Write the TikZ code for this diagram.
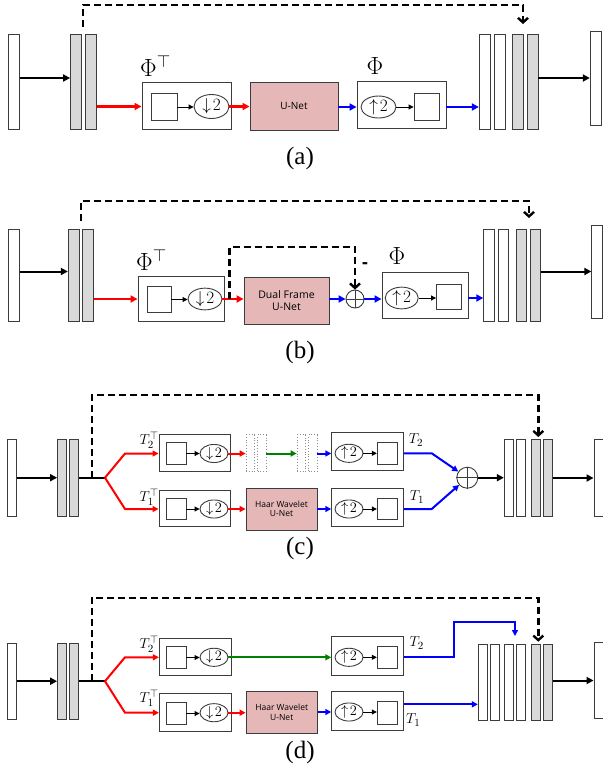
\documentclass[tikz,border=0pt]{standalone}
\usepackage[no-math]{fontspec}
\setmainfont{Liberation Serif}
\newfontfamily\sansf{Open Sans}
\usetikzlibrary{shapes.geometric,arrows.meta}
\definecolor{pinkc}{RGB}{229,184,183}
\definecolor{grayc}{RGB}{217,217,217}
\definecolor{greenc}{RGB}{0,128,0}
\definecolor{edgec}{RGB}{60,60,60}
\newcommand{\fsz}[1]{\fontsize{#1}{#1}\selectfont}
\begin{document}
\begin{tikzpicture}[x=1pt,y=-1pt,
  bx/.style={draw=edgec, line width=0.9pt, inner sep=0pt, fill=white},
  wbar/.style={bx},
  gbar/.style={bx, fill=grayc},
  dbar/.style={draw=black!45, dotted, line width=0.8pt, inner sep=0pt},
  ell/.style={bx, ellipse},
  unet/.style={bx, fill=pinkc, align=center},
  opl/.style={draw=edgec, line width=0.9pt, circle, inner sep=0pt, fill=white},
  tipbig/.style={-{Triangle[length=7pt,width=7pt]}},
  tipsm/.style={-{Triangle[length=6pt,width=6pt]}},
  karr/.style={black, line width=2pt, tipbig},
  kline/.style={black, line width=2pt},
  rarr/.style={red, line width=2.4pt, tipbig},
  barr/.style={blue, line width=2.4pt, tipbig},
  rarrs/.style={red, line width=2pt, tipsm},
  barrs/.style={blue, line width=2pt, tipsm},
  garrs/.style={greenc, line width=2pt, tipsm},
  sarr/.style={black, line width=0.9pt, -{Triangle[length=5pt,width=5pt]}},
  darr/.style={black, line width=2.4pt, dash pattern=on 7pt off 4pt, -{Straight Barb[length=4.5pt,width=10pt]}},
  lbl/.style={inner sep=0pt},
]
\useasboundingbox (0,0) rectangle (603,780);

% ================= (a) =================
\node[wbar,minimum width=11,minimum height=95] (ina) at (13.8,81.5) {};
\node[gbar,minimum width=10.5,minimum height=95] (ga1) at (75.8,81.5) {};
\node[gbar,minimum width=11,minimum height=95] (ga2) at (90.6,81.5) {};
\node[bx,minimum width=89,minimum height=47] (pta) at (186.5,105.5) {};
\node[bx,minimum width=26,minimum height=27] (sqa1) at (164,107) {};
\node[ell,minimum width=35,minimum height=24,font=\fsz{18}] (ela1) at (211.5,106.5) {$\downarrow\! 2$};
\node[unet,minimum width=88,minimum height=48,font=\sansf\fsz{10}] (una) at (294,106) {U-Net};
\node[bx,minimum width=89,minimum height=47] (pha) at (401.5,104.5) {};
\node[ell,minimum width=35,minimum height=22,font=\fsz{18}] (ela2) at (378.5,107) {$\uparrow\! 2$};
\node[bx,minimum width=25,minimum height=27] (sqa2) at (426.5,106.5) {};
\node[wbar,minimum width=11,minimum height=95] (oa1) at (484.8,81.5) {};
\node[wbar,minimum width=11,minimum height=95] (oa2) at (499.7,81.5) {};
\node[gbar,minimum width=11,minimum height=95] (oa3) at (517.5,81.5) {};
\node[gbar,minimum width=11,minimum height=95] (oa4) at (532.5,81.5) {};
\node[wbar,minimum width=11.5,minimum height=94] (fina) at (596,78) {};
\node[lbl,font=\fsz{26},anchor=west] (lpta) at (140,66) {$\Phi^{\top}$};
\node[lbl,font=\fsz{26}] (lpha) at (375,66) {$\Phi$};
\node[lbl,font=\fsz{25}] (capa) at (300,158) {(a)};
\coordinate (sa) at (83,27);
\coordinate (ka) at (523,5);
\coordinate (ta) at (523,24);

\draw[karr] (ina.east |- fina) -- (ga1.west |- fina);
\draw[rarr] (ga2.east |- ela1) -- (pta.west |- ela1);
\draw[sarr] (sqa1.east) -- (sqa1.east -| ela1.west);
\draw[rarr] (ela1.east) -- (ela1.east -| una.west);
\draw[barr] (una.east |- ela2) -- (pha.west |- ela2);
\draw[sarr] (ela2.east) -- (ela2.east -| sqa2.west);
\draw[barr] (pha.east |- ela2) -- (oa1.west |- ela2);
\draw[karr] (oa4.east |- fina) -- (fina.west);
\draw[darr] (sa) |- (ka) -- (ta);

% ================= (b) =================
\node[wbar,minimum width=11,minimum height=92] (inb) at (13.7,275) {};
\node[gbar,minimum width=11,minimum height=92] (gb1) at (73.8,275) {};
\node[gbar,minimum width=11,minimum height=92] (gb2) at (88.2,275) {};
\node[bx,minimum width=86,minimum height=45] (ptb) at (181,298.5) {};
\node[bx,minimum width=24,minimum height=26] (sqb1) at (159,299.5) {};
\node[ell,minimum width=34,minimum height=20,font=\fsz{18}] (elb1) at (205,299) {$\downarrow\! 2$};
\node[unet,minimum width=85,minimum height=47,font=\sansf\fsz{10.5}] (dfb) at (286.5,300.5) {Dual Frame\\[1pt]U-Net};
\node[opl,minimum size=18] (opb) at (355,299) {};
\draw[edgec,line width=0.9pt] (opb.north) -- (opb.south) (opb.west) -- (opb.east);
\node[bx,minimum width=86,minimum height=46] (phb) at (425,295) {};
\node[ell,minimum width=33,minimum height=20,font=\fsz{18}] (elb2) at (401.7,298) {$\uparrow\! 2$};
\node[bx,minimum width=25,minimum height=25] (sqb2) at (449,296.7) {};
\node[wbar,minimum width=10.5,minimum height=92] (ob1) at (489,275) {};
\node[wbar,minimum width=10.5,minimum height=92] (ob2) at (503.5,275) {};
\node[gbar,minimum width=10.5,minimum height=92] (ob3) at (521.3,275) {};
\node[gbar,minimum width=10.5,minimum height=92] (ob4) at (535.3,275) {};
\node[wbar,minimum width=11,minimum height=93] (finb) at (597.3,271.5) {};
\node[lbl,font=\fsz{26},anchor=west] (lptb) at (136,260) {$\Phi^{\top}$};
\node[lbl,font=\fsz{26}] (lphb) at (397,256) {$\Phi$};
\node[lbl,font=\sansf\bfseries\fsz{18}] (minb) at (365,266) {-};
\node[lbl,font=\fsz{25}] (capb) at (300,352) {(b)};
\coordinate (sb) at (81,221);
\coordinate (kb) at (529,201);
\coordinate (tb) at (529,218);
\coordinate (ib) at (229.5,299);
\coordinate (kib) at (229.5,247);

\draw[karr] (inb.east |- finb) -- (gb1.west |- finb);
\draw[rarr] (gb2.east |- elb1) -- (ptb.west |- elb1);
\draw[sarr] (sqb1.east) -- (sqb1.east -| elb1.west);
\draw[rarr] (elb1.east) -- (elb1.east -| dfb.west);
\draw[barr] (dfb.east |- opb) -- (opb.west);
\draw[barr] (opb.east) -- (opb.east -| phb.west);
\draw[sarr] (elb2.east) -- (elb2.east -| sqb2.west);
\draw[barr] (phb.east |- elb2) -- (ob1.west |- elb2);
\draw[karr] (ob4.east |- finb) -- (finb.west);
\draw[darr] (sb) |- (kb) -- (tb);
\draw[darr] (ib) -- (kib) -| (opb.north);

% ================= (c) =================
\node[wbar,minimum width=9,minimum height=77] (inc) at (11.7,477.7) {};
\node[gbar,minimum width=8.5,minimum height=77] (gc1) at (61.8,477.7) {};
\node[gbar,minimum width=9,minimum height=77] (gc2) at (73.8,477.7) {};
\coordinate (jc) at (105,477.7);
\coordinate (sc) at (91.7,477.7);
\coordinate (fc1) at (125,453.5);
\coordinate (fc2) at (125,509);
\node[bx,minimum width=71,minimum height=37.5] (pc1) at (194.5,453) {};
\node[bx,minimum width=20,minimum height=21.7] (sqc1) at (176,453.5) {};
\node[ell,minimum width=28,minimum height=17,font=\fsz{14.5}] (elc1) at (214,453.5) {$\downarrow\! 2$};
\node[bx,minimum width=71,minimum height=36.7] (pc2) at (194.5,508.3) {};
\node[bx,minimum width=20,minimum height=21.7] (sqc2) at (176,509) {};
\node[ell,minimum width=28,minimum height=17,font=\fsz{14.5}] (elc2) at (214,509) {$\downarrow\! 2$};
\node[dbar,minimum width=8.5,minimum height=37] (dc1) at (250.3,453.3) {};
\node[dbar,minimum width=8.5,minimum height=37] (dc2) at (261.8,453.3) {};
\node[dbar,minimum width=8.5,minimum height=37] (dc3) at (301.3,453.3) {};
\node[dbar,minimum width=8.5,minimum height=37] (dc4) at (312.8,453.3) {};
\node[unet,minimum width=71,minimum height=42,font=\sansf\fsz{8.5}] (hc) at (281.5,509) {Haar Wavelet\\[1pt]U-Net};
\node[bx,minimum width=71.6,minimum height=38] (qc1) at (367.5,451.7) {};
\node[ell,minimum width=28,minimum height=17,font=\fsz{14.5}] (elc3) at (349,453.3) {$\uparrow\! 2$};
\node[bx,minimum width=20.4,minimum height=21.7] (sqc3) at (387.5,453.3) {};
\node[bx,minimum width=71.6,minimum height=38.4] (qc2) at (367.5,507.5) {};
\node[ell,minimum width=28,minimum height=17,font=\fsz{14.5}] (elc4) at (349,509) {$\uparrow\! 2$};
\node[bx,minimum width=20.4,minimum height=21.7] (sqc4) at (387.5,509) {};
\node[opl,minimum size=21] (opc) at (467.3,477.7) {};
\draw[edgec,line width=0.9pt] (opc.north) -- (opc.south) (opc.west) -- (opc.east);
\node[wbar,minimum width=9,minimum height=77.4] (oc1) at (508.8,478) {};
\node[wbar,minimum width=9,minimum height=77.4] (oc2) at (521.2,478) {};
\node[gbar,minimum width=9,minimum height=77.4] (oc3) at (536.2,478) {};
\node[gbar,minimum width=9,minimum height=77.4] (oc4) at (547.8,478) {};
\node[wbar,minimum width=9,minimum height=77] (finc) at (598.5,478) {};
\node[lbl,font=\fsz{15},anchor=east] (ltc2) at (159,440) {$T_2^{\top}$};
\node[lbl,font=\fsz{15},anchor=east] (ltc1) at (159,497) {$T_1^{\top}$};
\node[lbl,font=\fsz{15}] (lc2) at (416,440) {$T_2$};
\node[lbl,font=\fsz{15}] (lc1) at (417,497) {$T_1$};
\node[lbl,font=\fsz{25}] (capc) at (300,548) {(c)};
\coordinate (kc) at (538.3,395);
\coordinate (tc) at (538.3,437);
\coordinate (bc1) at (431.7,453.3);
\coordinate (bc2) at (431.7,509);

\draw[karr] (inc.east) -- (gc1.west);
\draw[kline] (gc2.east |- jc) -- (jc);
\draw[rarrs] (jc) -- (fc1) -- (fc1 -| pc1.west);
\draw[rarrs] (jc) -- (fc2) -- (fc2 -| pc2.west);
\draw[sarr] (sqc1.east) -- (sqc1.east -| elc1.west);
\draw[sarr] (sqc2.east) -- (sqc2.east -| elc2.west);
\draw[rarrs] (elc1.east) -- (elc1.east -| dc1.west);
\draw[garrs] (dc2.east |- elc1) -- (dc3.west |- elc1);
\draw[barrs] (dc4.east |- elc1) -- (qc1.west |- elc1);
\draw[rarrs] (elc2.east) -- (elc2.east -| hc.west);
\draw[barrs] (hc.east |- elc4) -- (qc2.west |- elc4);
\draw[sarr] (elc3.east) -- (elc3.east -| sqc3.west);
\draw[sarr] (elc4.east) -- (elc4.east -| sqc4.west);
\draw[barrs] (qc1.east |- bc1) -- (bc1) -- (opc);
\draw[barrs] (qc2.east |- bc2) -- (bc2) -- (opc);
\draw[karr] (opc.east) -- (opc.east -| oc1.west);
\draw[karr] (oc4.east |- finc) -- (finc.west);
\draw[darr] (sc) |- (kc) -- (tc);

% ================= (d) =================
\node[wbar,minimum width=9,minimum height=76] (ind) at (11.7,681.2) {};
\node[gbar,minimum width=8.5,minimum height=76] (gd1) at (61.8,681.2) {};
\node[gbar,minimum width=9,minimum height=76] (gd2) at (73.8,681.2) {};
\coordinate (jd) at (105,681.2);
\coordinate (sd) at (91.7,681.2);
\coordinate (fd1) at (125,657.3);
\coordinate (fd2) at (125,712.7);
\node[bx,minimum width=71.7,minimum height=37.4] (pd1) at (195.2,657) {};
\node[bx,minimum width=20,minimum height=22.3] (sqd1) at (176,657.5) {};
\node[ell,minimum width=28,minimum height=17,font=\fsz{14.5}] (eld1) at (214,657.3) {$\downarrow\! 2$};
\node[bx,minimum width=71.7,minimum height=38.4] (pd2) at (195.2,712.5) {};
\node[bx,minimum width=20,minimum height=22.3] (sqd2) at (176,713.5) {};
\node[ell,minimum width=28,minimum height=17,font=\fsz{14.5}] (eld2) at (214,712.7) {$\downarrow\! 2$};
\node[unet,minimum width=71.3,minimum height=42.3,font=\sansf\fsz{8.5}] (hd) at (281.7,712.2) {Haar Wavelet\\[1pt]U-Net};
\node[bx,minimum width=71.6,minimum height=38.3] (qd1) at (367.5,655.8) {};
\node[ell,minimum width=28,minimum height=17,font=\fsz{14.5}] (eld3) at (349,657.3) {$\uparrow\! 2$};
\node[bx,minimum width=20.4,minimum height=22.3] (sqd3) at (387.5,657.2) {};
\node[bx,minimum width=71.6,minimum height=38.3] (qd2) at (367.5,710.8) {};
\node[ell,minimum width=28,minimum height=17,font=\fsz{14.5}] (eld4) at (349,712) {$\uparrow\! 2$};
\node[bx,minimum width=20.4,minimum height=22.3] (sqd4) at (387.5,712.8) {};
\node[wbar,minimum width=9,minimum height=76] (od1) at (482.8,682) {};
\node[wbar,minimum width=8.6,minimum height=76] (od2) at (495,682) {};
\node[wbar,minimum width=9,minimum height=76] (od3) at (508.8,682) {};
\node[wbar,minimum width=9,minimum height=76] (od4) at (521.2,682) {};
\node[gbar,minimum width=9,minimum height=76] (od5) at (536.2,682) {};
\node[gbar,minimum width=9,minimum height=76] (od6) at (547.8,682) {};
\node[wbar,minimum width=9,minimum height=75.6] (find) at (598.5,680.5) {};
\node[lbl,font=\fsz{15},anchor=east] (ltd2) at (159,644) {$T_2^{\top}$};
\node[lbl,font=\fsz{15},anchor=east] (ltd1) at (159,698) {$T_1^{\top}$};
\node[lbl,font=\fsz{15}] (ld2) at (416.7,643) {$T_2$};
\node[lbl,font=\fsz{15}] (ld1) at (413.3,720) {$T_1$};
\node[lbl,font=\fsz{25}] (capd) at (300,752) {(d)};
\coordinate (kd) at (538.3,597.7);
\coordinate (td) at (538.3,641.7);
\coordinate (bd1) at (454,621.7);
\coordinate (bd2) at (515,636);
\coordinate (bd3) at (0,704.3);

\draw[karr] (ind.east) -- (gd1.west);
\draw[kline] (gd2.east |- jd) -- (jd);
\draw[rarrs] (jd) -- (fd1) -- (fd1 -| pd1.west);
\draw[rarrs] (jd) -- (fd2) -- (fd2 -| pd2.west);
\draw[sarr] (sqd1.east) -- (sqd1.east -| eld1.west);
\draw[sarr] (sqd2.east) -- (sqd2.east -| eld2.west);
\draw[garrs] (eld1.east) -- (eld1.east -| qd1.west);
\draw[rarrs] (eld2.east) -- (eld2.east -| hd.west);
\draw[barrs] (hd.east |- eld4) -- (qd2.west |- eld4);
\draw[sarr] (eld3.east) -- (eld3.east -| sqd3.west);
\draw[sarr] (eld4.east) -- (eld4.east -| sqd4.west);
\draw[barrs] (qd1.east |- sqd3) -| (bd1) -| (bd2);
\draw[barrs] (qd2.east |- bd3) -- (od1.west |- bd3);
\draw[karr] (od6.east |- find) -- (find.west);
\draw[darr] (sd) |- (kd) -- (td);
\end{tikzpicture}
\end{document}
